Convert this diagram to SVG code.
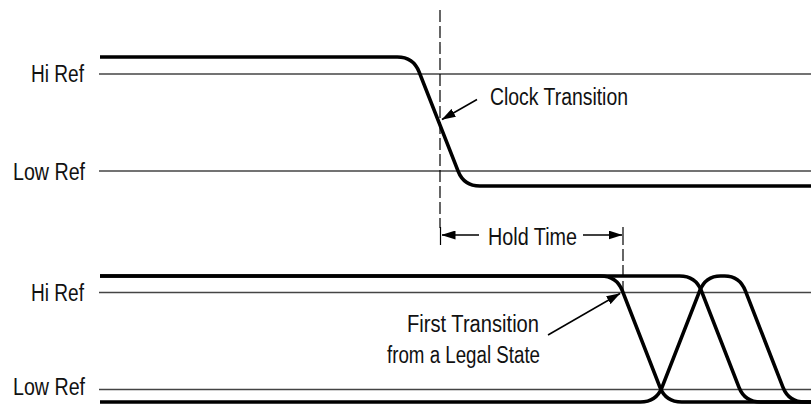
<svg xmlns="http://www.w3.org/2000/svg" width="811" height="404" viewBox="0 0 811 404">
<style>
  text { font-family: "Liberation Sans", Arial, sans-serif; font-size: 23px; fill: #111; }
  .ref { stroke: #444; stroke-width: 1.3; fill: none; }
  .sig { stroke: #000; stroke-width: 3.6; fill: none; stroke-linejoin: round; }
  .dash { stroke: #000; stroke-width: 1.2; stroke-dasharray: 12 4; fill: none; }
  .arr { stroke: #000; stroke-width: 1.5; fill: none; marker-end: url(#ah); }
  .bar { stroke: #000; stroke-width: 1.2; }
</style>
<defs>
  <marker id="ah" markerUnits="userSpaceOnUse" markerWidth="14" markerHeight="9" refX="13.5" refY="4.5" orient="auto">
    <path d="M0,0 L14,4.5 L0,9 Z" fill="#000"/>
  </marker>
</defs>
<rect width="811" height="404" fill="#fff"/>

<g id="top-refs">
  <line class="ref" x1="99" y1="74" x2="811" y2="74"/>
  <line class="ref" x1="99" y1="171" x2="811" y2="171"/>
  <text x="84" y="81.5" text-anchor="end" textLength="53" lengthAdjust="spacingAndGlyphs">Hi Ref</text>
  <text x="85" y="180" text-anchor="end" textLength="72" lengthAdjust="spacingAndGlyphs">Low Ref</text>
</g>

<g id="top-signal">
  <path class="sig" d="M100,57 H397.3 Q413.3,57 419.1,71.9 L458.1,171.1 Q463.9,186 479.9,186 H811"/>
</g>

<g id="bottom-refs">
  <line class="ref" x1="99" y1="292.5" x2="811" y2="292.5"/>
  <line class="ref" x1="99" y1="389.5" x2="811" y2="389.5"/>
  <text x="84" y="300.5" text-anchor="end" textLength="53" lengthAdjust="spacingAndGlyphs">Hi Ref</text>
  <text x="85" y="395" text-anchor="end" textLength="72" lengthAdjust="spacingAndGlyphs">Low Ref</text>
</g>

<g id="bottom-signals">
  <path class="sig" d="M100,276 H600.6 Q616.6,276 622.4,290.9 L659.9,387.1 Q665.7,402 681.7,402 H811"/>
  <path class="sig" d="M100,276 H679.6 Q695.6,276 701.4,290.9 L738.9,387.1 Q744.7,402 760.7,402 H811"/>
  <path class="sig" d="M100,402 H640.3 Q656.3,402 662.1,387.1 L699.7,290.9 Q705.5,276 720.5,276 H724.6 Q739.6,276 745.4,290.9 L782.9,387.1 Q788.7,402 804.7,402 H811"/>
</g>

<g id="clock-line">
  <line class="dash" x1="440" y1="10" x2="440" y2="228"/>
  <line class="bar" x1="440.5" y1="227" x2="440.5" y2="245"/>
</g>

<g id="hold-line">
  <line class="bar" x1="623" y1="227" x2="623" y2="245"/>
  <line class="dash" x1="623" y1="249" x2="623" y2="293"/>
</g>

<g id="label-clock">
  <text x="490" y="104.5" textLength="138" lengthAdjust="spacingAndGlyphs">Clock Transition</text>
</g>
<g id="label-hold">
  <text x="488" y="245" textLength="89" lengthAdjust="spacingAndGlyphs">Hold Time</text>
</g>
<g id="label-first">
  <text x="539" y="331.5" text-anchor="end" textLength="132" lengthAdjust="spacingAndGlyphs">First Transition</text>
  <text x="540" y="362.5" text-anchor="end" textLength="153" lengthAdjust="spacingAndGlyphs">from a Legal State</text>
</g>

<g id="connectors">
  <line class="arr" x1="477" y1="99.5" x2="442" y2="119.5"/>
  <line class="arr" x1="479" y1="235" x2="442" y2="235"/>
  <line class="arr" x1="583" y1="235" x2="622" y2="235"/>
  <line class="arr" x1="548" y1="335" x2="620" y2="293.5"/>
</g>
</svg>
